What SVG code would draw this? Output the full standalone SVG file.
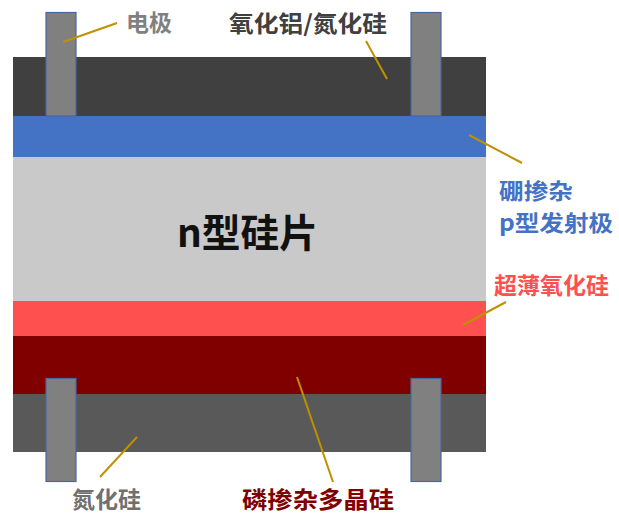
<svg xmlns="http://www.w3.org/2000/svg" width="619" height="514" viewBox="0 0 619 514">
<style>
text{font-family:"Noto Sans CJK SC","Noto Sans",sans-serif;font-weight:700;}
.lbl{font-size:23px;}
.el{fill:#808080;stroke:#4a67a0;stroke-width:1.2;}
.ln{stroke:#bf9000;stroke-width:2;fill:none;}
</style>
<rect width="619" height="514" fill="#ffffff"/>
<g id="layers">
<rect id="top-passivation" x="13" y="57" width="473" height="59" fill="#404040"/>
<rect id="boron-emitter" x="13" y="116" width="473" height="41" fill="#4472c4"/>
<rect id="n-wafer" x="13" y="157" width="473" height="144" fill="#c9c9c9"/>
<rect id="tunnel-oxide" x="13" y="301" width="473" height="35" fill="#ff5050"/>
<rect id="poly-si" x="13" y="336" width="473" height="58" fill="#800000"/>
<rect id="bottom-sin" x="13" y="394" width="473" height="58" fill="#595959"/>
</g>
<g id="electrodes">
<rect class="el" x="46" y="12.5" width="30" height="103.5"/>
<rect class="el" x="411" y="12.5" width="30" height="103.5"/>
<rect class="el" x="46" y="378.5" width="30" height="103"/>
<rect class="el" x="411" y="378.5" width="30" height="103"/>
</g>
<g id="connectors">
<line class="ln" x1="63" y1="42" x2="117" y2="23"/>
<line class="ln" x1="366" y1="41" x2="387" y2="79"/>
<line class="ln" x1="469" y1="135" x2="522" y2="163"/>
<line class="ln" x1="506" y1="302" x2="463" y2="325"/>
<line class="ln" x1="137" y1="437" x2="100" y2="477"/>
<line class="ln" x1="297" y1="377" x2="333" y2="482"/>
</g>
<g id="label-electrode"><text class="lbl" x="126" y="31" fill="#808080">电极</text></g>
<g id="label-top"><text class="lbl" x="229" y="32" fill="#404040" textLength="158" lengthAdjust="spacingAndGlyphs">氧化铝/氮化硅</text></g>
<g id="label-emitter">
<text x="499" y="199" fill="#4472c4" font-size="22" textLength="74" lengthAdjust="spacingAndGlyphs">硼掺杂</text>
<text x="499" y="231" fill="#4472c4" font-size="22" textLength="114" lengthAdjust="spacingAndGlyphs">p型发射极</text>
</g>
<g id="label-oxide"><text class="lbl" x="494" y="294" fill="#ff5050" font-size="24">超薄氧化硅</text></g>
<g id="label-wafer"><text x="177" y="247" fill="#111111" font-size="39" textLength="141" lengthAdjust="spacingAndGlyphs">n型硅片</text></g>
<g id="label-sin"><text class="lbl" x="72" y="508" fill="#707070">氮化硅</text></g>
<g id="label-poly"><text class="lbl" x="242" y="508" fill="#800000" textLength="152" lengthAdjust="spacingAndGlyphs">磷掺杂多晶硅</text></g>
</svg>
